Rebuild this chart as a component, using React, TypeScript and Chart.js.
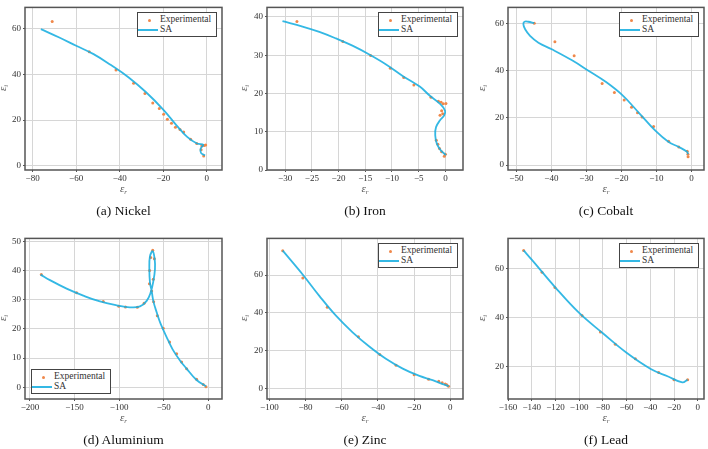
import React, { useEffect, useRef } from 'react';
import { Chart, registerables } from 'chart.js';

Chart.register(...registerables);

// ---------- Data ----------
// (a) Nickel
const nickelExpX = [-71.0, -54.0, -41.7, -33.6, -28.4, -24.8, -21.8, -19.8, -18.1, -16.2, -14.4, -12.3, -10.6, -7.4, -4.6, -2.3, -1.2, -0.5, -2.6, -1.4];
const nickelExpY = [63.2, 50.0, 42.0, 36.1, 31.6, 27.5, 25.1, 22.6, 20.4, 18.6, 16.8, 15.9, 14.8, 11.6, 9.7, 8.7, 8.8, 9.1, 7.0, 4.2];
const nickelSaX = [-76.2, -68.0, -60.0, -52.0, -44.0, -36.0, -28.0, -20.0, -14.0, -9.0, -4.5, -1.6, -2.8, -2.6, -0.8];
const nickelSaY = [59.9, 56.3, 52.6, 48.9, 44.1, 38.8, 32.3, 24.6, 17.8, 12.6, 9.7, 9.2, 7.5, 5.5, 4.5];

// (b) Iron
const ironExpX = [-27.8, -19.2, -14.0, -10.3, -7.8, -5.9, -2.7, -1.3, -0.8, -0.4, 0.1, -0.7, -0.5, -1.0, -1.7, -1.4, -1.1, -0.7, -0.2, 0.0];
const ironExpY = [38.8, 33.6, 29.9, 26.6, 24.2, 22.2, 19.0, 18.0, 17.7, 17.3, 17.4, 15.5, 14.7, 14.3, 7.8, 6.7, 5.6, 4.8, 3.6, 4.1];
const ironSaX = [-30.5, -26.75, -23.6, -20.5, -17.4, -14.25, -11.1, -8.0, -4.8, -2.9, -1.0, -0.06, -0.25, -1.0, -1.75, -1.9, -1.6, -0.9, 0.1];
const ironSaY = [38.9, 37.5, 36.1, 34.4, 32.5, 30.2, 27.6, 24.6, 21.8, 19.4, 17.3, 15.5, 14.2, 13.0, 11.2, 9.1, 6.9, 5.2, 3.9];

// (c) Cobalt
const cobaltExpX = [-44.9, -39.0, -33.5, -25.5, -22.0, -19.2, -17.1, -15.4, -14.1, -10.8, -6.5, -3.6, -1.2, -1.0, -0.95];
const cobaltExpY = [60.3, 52.4, 46.4, 34.7, 30.8, 27.7, 24.6, 22.2, 20.4, 16.4, 10.1, 7.7, 5.9, 4.6, 3.5];
const cobaltSaX = [-44.9, -46.6, -47.7, -48.0, -47.5, -46.1, -43.7, -39.9, -34.1, -29.3, -24.6, -19.8, -15.0, -10.3, -6.5, -3.6, -1.2, -1.0];
const cobaltSaY = [60.3, 60.9, 60.9, 59.8, 57.7, 54.9, 52.0, 49.2, 44.5, 40.0, 35.5, 29.8, 22.2, 14.6, 9.8, 7.7, 5.6, 4.6];

// (d) Aluminium
const alExpX = [-187.3, -147.7, -117.8, -100.4, -92.9, -79.6, -72.0, -66.0, -65.8, -64.6, -62.3, -60.5, -61.7, -63.5, -61.3, -57.2, -50.5, -43.4, -35.5, -29.9, -24.3, -13.1, -5.6, -2.6];
const alExpY = [38.6, 32.4, 29.4, 27.8, 27.5, 27.4, 28.8, 35.5, 40.0, 44.5, 46.9, 44.0, 37.0, 33.0, 29.3, 24.5, 20.2, 15.5, 11.5, 8.7, 6.4, 2.8, 1.0, 0.2];
const alSaX = [-188.0, -177.6, -158.9, -140.2, -121.5, -102.8, -87.9, -76.6, -69.1, -64.6, -61.8, -59.8, -60.1, -62.3, -65.4, -66.1, -65.4, -63.5, -61.7, -57.9, -53.4, -47.0, -40.0, -32.0, -24.3, -13.1, -2.6];
const alSaY = [38.6, 36.7, 33.8, 31.4, 29.4, 28.1, 27.4, 27.7, 29.6, 32.5, 36.0, 40.4, 43.8, 46.6, 44.9, 40.4, 35.8, 33.0, 29.6, 25.7, 21.7, 17.4, 13.0, 9.3, 6.4, 2.5, 0.4];

// (e) Zinc
const zincExpX = [-92.6, -81.5, -68.0, -50.8, -39.0, -30.0, -20.0, -12.0, -6.4, -4.5, -2.8, -2.0, -1.0];
const zincExpY = [72.9, 58.5, 43.0, 27.3, 18.0, 12.3, 7.3, 4.8, 3.8, 3.0, 2.3, 2.0, 1.2];
const zincSaX = [-92.6, -81.6, -72.4, -63.2, -54.0, -44.8, -35.6, -26.3, -17.1, -9.8, -4.2, -0.9];
const zincSaY = [72.9, 60.3, 49.0, 38.5, 29.7, 22.2, 15.7, 10.5, 6.6, 4.4, 2.3, 1.2];

// (f) Lead
const leadExpX = [-146.8, -131.3, -120.4, -97.6, -82.1, -69.5, -52.6, -32.9, -20.0, -8.5];
const leadExpY = [67.3, 58.5, 52.2, 40.8, 34.0, 29.0, 23.1, 17.4, 14.5, 14.5];
const leadSaX = [-146.8, -140.0, -120.0, -100.0, -80.0, -60.0, -40.0, -25.0, -13.0, -8.5];
const leadSaY = [67.4, 63.6, 52.2, 41.8, 33.5, 25.5, 19.0, 15.8, 13.4, 14.5];

// Tick labels
const ticksNiX = [-80, -60, -40, -20, 0];
const ticksNiY = [0, 20, 40, 60];
const ticksFeX = [-30, -25, -20, -15, -10, -5, 0];
const ticksFeY = [0, 10, 20, 30, 40];
const ticksCoX = [-50, -40, -30, -20, -10, 0];
const ticksCoY = [0, 20, 40, 60];
const ticksAlX = [-200, -150, -100, -50, 0];
const ticksAlY = [0, 10, 20, 30, 40, 50];
const ticksZnX = [-100, -80, -60, -40, -20, 0];
const ticksZnY = [0, 20, 40, 60];
const ticksPbX = [-160, -140, -120, -100, -80, -60, -40, -20, 0];
const ticksPbY = [20, 40, 60];

const captions = ['(a) Nickel', '(b) Iron', '(c) Cobalt', '(d) Aluminium', '(e) Zinc', '(f) Lead'];
const seriesNames = ['Experimental', 'SA'];

// ---------- Styling ----------
const EXP_COLOR = '#F0884A';
const SA_COLOR = 'rgba(24,174,224,0.88)';
const SERIF = '"Liberation Serif", "DejaVu Serif", serif';

type Frame = { l: number; t: number; r: number; b: number };
type PanelCfg = {
  caption: string;
  expX: number[]; expY: number[]; saX: number[]; saY: number[];
  xTicks: number[]; yTicks: number[];
  xMin: number; xMax: number; yMin: number; yMax: number;
  frame: Frame; legend: 'tr' | 'bl'; yTitleOff: number;
};

const panels: PanelCfg[] = [
  { caption: captions[0], expX: nickelExpX, expY: nickelExpY, saX: nickelSaX, saY: nickelSaY, xTicks: ticksNiX, yTicks: ticksNiY,
    xMin: -83.5, xMax: 7.0, yMin: -1.9, yMax: 69.4, frame: { l: 25, t: 6, r: 222, b: 170 }, legend: 'tr', yTitleOff: 22 },
  { caption: captions[1], expX: ironExpX, expY: ironExpY, saX: ironSaX, saY: ironSaY, xTicks: ticksFeX, yTicks: ticksFeY,
    xMin: -33.4, xMax: 3.3, yMin: 0, yMax: 42.5, frame: { l: 267, t: 6, r: 463, b: 170 }, legend: 'tr', yTitleOff: 23 },
  { caption: captions[2], expX: cobaltExpX, expY: cobaltExpY, saX: cobaltSaX, saY: cobaltSaY, xTicks: ticksCoX, yTicks: ticksCoY,
    xMin: -52.4, xMax: 3.6, yMin: -2.1, yMax: 67.0, frame: { l: 508, t: 6, r: 704, b: 170 }, legend: 'tr', yTitleOff: 26 },
  { caption: captions[3], expX: alExpX, expY: alExpY, saX: alSaX, saY: alSaY, xTicks: ticksAlX, yTicks: ticksAlY,
    xMin: -205.6, xMax: 15.4, yMin: -4.0, yMax: 51.0, frame: { l: 25, t: 237, r: 222, b: 399 }, legend: 'bl', yTitleOff: 22 },
  { caption: captions[4], expX: zincExpX, expY: zincExpY, saX: zincSaX, saY: zincSaY, xTicks: ticksZnX, yTicks: ticksZnY,
    xMin: -101.3, xMax: 7.0, yMin: -5.6, yMax: 79.4, frame: { l: 267, t: 237, r: 463, b: 399 }, legend: 'tr', yTitleOff: 23 },
  { caption: captions[5], expX: leadExpX, expY: leadExpY, saX: leadSaX, saY: leadSaY, xTicks: ticksPbX, yTicks: ticksPbY,
    xMin: -160.0, xMax: 5.3, yMin: 6.6, yMax: 72.3, frame: { l: 508, t: 237, r: 704, b: 399 }, legend: 'tr', yTitleOff: 26 },
];

const fmt = (v: number) => (v < 0 ? '\u2212' + Math.abs(v) : String(v));

const framePlugin = {
  id: 'frameBox',
  afterDraw(chart: any) {
    const { ctx, chartArea: a } = chart;
    ctx.save();
    ctx.strokeStyle = '#555';
    ctx.lineWidth = 1.5;
    ctx.strokeRect(a.left, a.top, a.right - a.left, a.bottom - a.top);
    ctx.restore();
  },
};

const PAD_L = 30, PAD_T = 6, PAD_R = 6, PAD_B = 20;

function Panel({ p }: { p: PanelCfg }) {
  const ref = useRef<HTMLCanvasElement>(null);
  const { l, t, r, b } = p.frame;
  const W = r - l + PAD_L + PAD_R;
  const H = b - t + PAD_T + PAD_B;

  useEffect(() => {
    if (!ref.current) return;
    const tickFont = { family: SERIF, size: 9 };
    const chart = new Chart(ref.current, {
      type: 'scatter',
      data: {
        datasets: [
          {
            label: seriesNames[1],
            data: p.saX.map((x, i) => ({ x, y: p.saY[i] })),
            showLine: true,
            borderColor: SA_COLOR,
            backgroundColor: SA_COLOR,
            borderWidth: 1.8,
            pointRadius: 0,
            tension: 0.4,
            order: 0,
          },
          {
            label: seriesNames[0],
            data: p.expX.map((x, i) => ({ x, y: p.expY[i] })),
            showLine: false,
            backgroundColor: EXP_COLOR,
            borderColor: EXP_COLOR,
            borderWidth: 0,
            pointRadius: 1.5,
            order: 1,
          },
        ],
      },
      options: {
        animation: false,
        responsive: false,
        maintainAspectRatio: false,
        layout: { padding: { left: 0, top: PAD_T, right: PAD_R, bottom: 0 } },
        plugins: { legend: { display: false }, tooltip: { enabled: false }, title: { display: false } },
        scales: {
          x: {
            type: 'linear',
            min: p.xMin,
            max: p.xMax,
            afterBuildTicks: (s: any) => { s.ticks = p.xTicks.map((v) => ({ value: v })); },
            afterFit: (s: any) => { s.height = PAD_B; },
            ticks: { font: tickFont, color: '#333', padding: 1, maxRotation: 0, autoSkip: false, callback: (v: any) => fmt(Number(v)) },
            grid: { color: '#d6d6d6', lineWidth: 1, tickLength: 2, tickColor: '#555' },
            border: { display: false },
          },
          y: {
            type: 'linear',
            min: p.yMin,
            max: p.yMax,
            afterBuildTicks: (s: any) => { s.ticks = p.yTicks.map((v) => ({ value: v })); },
            afterFit: (s: any) => { s.width = PAD_L; },
            ticks: { font: tickFont, color: '#333', padding: 2, autoSkip: false, callback: (v: any) => fmt(Number(v)) },
            grid: { color: '#d6d6d6', lineWidth: 1, tickLength: 2, tickColor: '#555' },
            border: { display: false },
          },
        },
      },
      plugins: [framePlugin],
    } as any);
    return () => chart.destroy();
  }, []);

  const cx = (l + r) / 2;
  const cy = (t + b) / 2;
  const legW = 80, legH = 25;
  const legLeft = p.legend === 'tr' ? r - 5 - legW : l + 6;
  const legTop = p.legend === 'tr' ? t + 6 : b - 5 - legH;

  return (
    <>
      <canvas
        ref={ref}
        width={W}
        height={H}
        style={{ position: 'absolute', left: l - PAD_L, top: t - PAD_T, width: W, height: H }}
      />
      {/* legend */}
      <div
        style={{
          position: 'absolute', left: legLeft, top: legTop, width: legW, height: legH, boxSizing: 'border-box',
          border: '1.2px solid #444', background: '#fff', font: `9.5px ${SERIF}`, color: '#333',
        }}
      >
        <div style={{ position: 'absolute', left: 9.5, top: 5.5, width: 3.2, height: 3.2, borderRadius: '50%', background: EXP_COLOR }} />
        <div style={{ position: 'absolute', left: 22, top: 1, lineHeight: '11px', whiteSpace: 'nowrap' }}>{seriesNames[0]}</div>
        <div style={{ position: 'absolute', left: 0, top: 16, width: 20, height: 1.8, background: SA_COLOR }} />
        <div style={{ position: 'absolute', left: 22, top: 11, lineHeight: '11px', whiteSpace: 'nowrap' }}>{seriesNames[1]}</div>
      </div>
      {/* x axis title */}
      <div style={{ position: 'absolute', left: cx, top: b + 19, transform: 'translate(-50%,-50%)', font: `italic 11px ${SERIF}`, color: '#555', whiteSpace: 'nowrap' }}>
        ε<sub style={{ fontSize: 7, verticalAlign: -2 }}>r</sub>
      </div>
      {/* y axis title */}
      <div style={{ position: 'absolute', left: l - p.yTitleOff, top: cy, transform: 'translate(-50%,-50%) rotate(-90deg)', font: `italic 11px ${SERIF}`, color: '#555', whiteSpace: 'nowrap' }}>
        ε<sub style={{ fontSize: 7, verticalAlign: -2 }}>i</sub>
      </div>
      {/* caption */}
      <div style={{ position: 'absolute', left: cx, top: b + 41, transform: 'translate(-50%,-50%)', font: `13.5px ${SERIF}`, color: '#111', whiteSpace: 'nowrap' }}>
        {p.caption}
      </div>
    </>
  );
}

export default function App() {
  return (
    <div style={{ position: 'fixed', left: 0, top: 0, width: 708, height: 449, background: '#fff', overflow: 'hidden' }}>
      {panels.map((p, i) => (
        <Panel key={i} p={p} />
      ))}
    </div>
  );
}
